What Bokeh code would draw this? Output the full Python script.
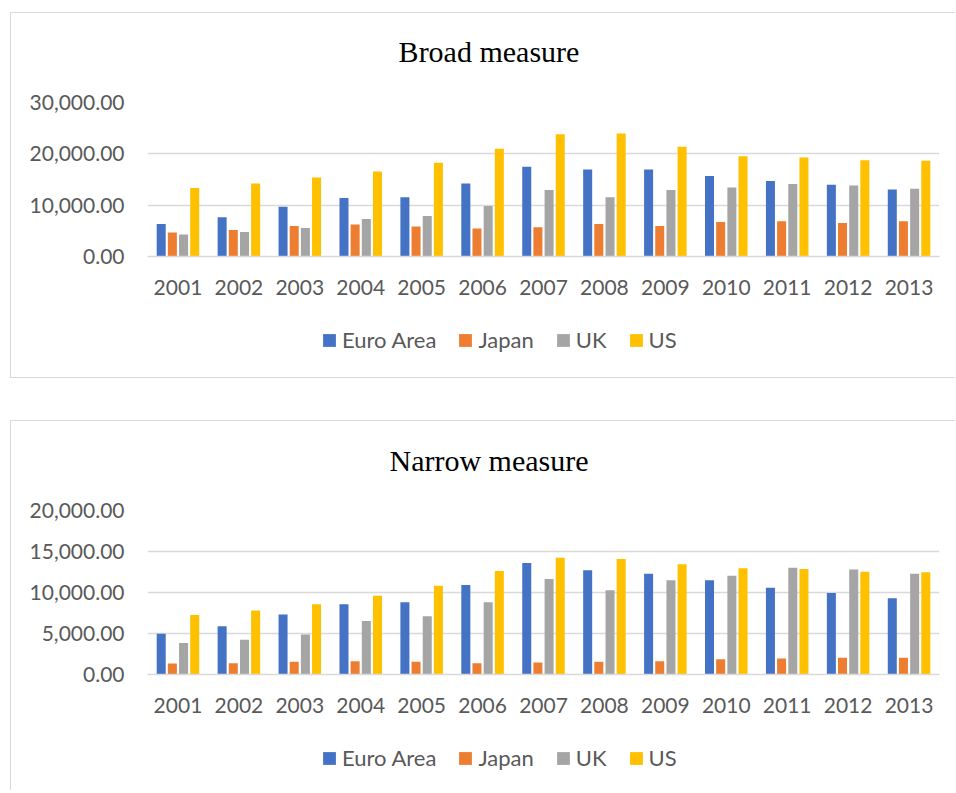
from bokeh.plotting import figure
from bokeh.models import (ColumnDataSource, FactorRange, Range1d, FixedTicker,
                          NumeralTickFormatter, Legend, LegendItem, Label)
from bokeh.transform import dodge
from bokeh.layouts import column
from bokeh.embed import file_html
from bokeh.resources import INLINE

# Categories and series
years = [str(y) for y in range(2001, 2014)]
series = ["Euro Area", "Japan", "UK", "US"]
colors = ["#4472C4", "#ED7D31", "#A5A5A5", "#FFC000"]

# Broad measure
broad_euro = [6350, 7630, 9710, 11390, 11520, 14240, 17480, 16960, 16960, 15660, 14690, 13980, 13070]
broad_japan = [4660, 5180, 5960, 6210, 5830, 5440, 5700, 6350, 5960, 6730, 6860, 6540, 6860]
broad_uk = [4270, 4790, 5570, 7320, 7900, 9840, 12950, 11520, 12950, 13460, 14110, 13850, 13200]
broad_us = [13340, 14240, 15400, 16570, 18250, 20970, 23820, 23950, 21360, 19550, 19290, 18770, 18640]
broad_ticks = [0, 10000, 20000, 30000]

# Narrow measure
narrow_euro = [4960, 5870, 7330, 8560, 8800, 10920, 13610, 12710, 12300, 11490, 10590, 9940, 9290]
narrow_japan = [1340, 1380, 1540, 1630, 1540, 1380, 1470, 1540, 1630, 1870, 1960, 2030, 2030]
narrow_uk = [3830, 4230, 4890, 6520, 7090, 8800, 11650, 10270, 11490, 12050, 13030, 12790, 12300]
narrow_us = [7250, 7820, 8560, 9610, 10830, 12630, 14250, 14090, 13450, 12960, 12870, 12540, 12470]
narrow_ticks = [0, 5000, 10000, 15000, 20000]

GRID = "#d9d9d9"
TEXT = "#595959"
SANS = "Lato"
SERIF = "Liberation Serif"
W = 944
TITLE_H = 60

offsets = [-0.275, -0.092, 0.092, 0.275]
bar_w = 0.148


def bare_figure(height, **kw):
    f = figure(width=W, height=height, x_axis_location=None, y_axis_location=None,
               output_backend="svg", toolbar_location=None, **kw)
    f.outline_line_color = None
    f.grid.visible = False
    return f


def make_title(text, y):
    # Heading strip above the chart; the column lines its frame up with the chart's
    t = bare_figure(TITLE_H, x_range=Range1d(0, 1), y_range=Range1d(0, TITLE_H),
                    min_border_left=0, min_border_right=0,
                    min_border_top=0, min_border_bottom=0)
    t.add_layout(Label(x=341.5, x_units="screen", y=y, text=text,
                       text_align="center", text_baseline="alphabetic",
                       text_font=SERIF, text_font_size="30px", text_color="#000000"))
    return t


def make_chart(src, ticks, frame_h):
    top, bottom = 89 - TITLE_H, 50
    p = figure(x_range=FactorRange(*years), y_range=Range1d(0, ticks[-1]),
               width=W, height=top + frame_h + bottom,
               min_border_left=136, min_border_right=16,
               min_border_top=top, min_border_bottom=bottom,
               output_backend="svg", toolbar_location=None)

    for i, col in enumerate(colors):
        p.vbar(x=dodge("year", offsets[i], range=p.x_range), top=f"s{i}",
               width=bar_w, source=src, fill_color=col, line_color=None)

    p.outline_line_color = None
    p.background_fill_color = "white"
    p.border_fill_color = "white"
    p.xgrid.visible = False
    p.ygrid.grid_line_color = GRID
    p.ygrid.grid_line_width = 1.5
    p.ygrid.ticker = FixedTicker(ticks=ticks)

    p.yaxis.ticker = FixedTicker(ticks=ticks)
    p.yaxis.formatter = NumeralTickFormatter(format="0,0.00")
    p.yaxis.axis_line_color = None
    p.yaxis.major_tick_line_color = None
    p.yaxis.minor_tick_line_color = None
    p.yaxis.major_label_standoff = 17
    p.yaxis.major_label_text_font = SANS
    p.yaxis.major_label_text_font_size = "21px"
    p.yaxis.major_label_text_color = TEXT

    p.xaxis.axis_line_color = GRID
    p.xaxis.axis_line_width = 1.5
    p.xaxis.major_tick_line_color = None
    p.xaxis.minor_tick_line_color = None
    p.xaxis.major_label_standoff = 17
    p.xaxis.major_label_text_font = SANS
    p.xaxis.major_label_text_font_size = "21px"
    p.xaxis.major_label_text_color = TEXT
    return p


def make_legend(src, height, pad_top, pad_bottom, y):
    # Key strip below the chart; its series renderers stay hidden
    lf = bare_figure(height, x_range=FactorRange(*years), y_range=Range1d(0, 1),
                     min_border_left=0, min_border_right=0,
                     min_border_top=pad_top, min_border_bottom=pad_bottom)
    items = []
    for i, (name, col) in enumerate(zip(series, colors)):
        r = lf.vbar(x="year", top=f"s{i}", width=bar_w, source=src,
                    fill_color=col, line_color=None, visible=False)
        items.append(LegendItem(label=name, renderers=[r]))
    legend = Legend(items=items, orientation="horizontal", location=(174, y),
                    glyph_width=16, glyph_height=16, label_standoff=5, spacing=21,
                    padding=0, margin=0, background_fill_alpha=0, border_line_alpha=0,
                    inactive_fill_alpha=0,
                    label_text_font=SANS, label_text_font_size="22px",
                    label_text_color=TEXT)
    lf.add_layout(legend)
    return lf


def source(values):
    return ColumnDataSource(dict(year=years, **{f"s{i}": v for i, v in enumerate(values)}))


edge = "1.5px solid #d9d9d9"

src1 = source([broad_euro, broad_japan, broad_uk, broad_us])
panel1 = column(make_title("Broad measure", 22),
                make_chart(src1, broad_ticks, 154),
                make_legend(src1, 71, 0, 2, 22),
                spacing=0, margin=(12, 0, 0, 10),
                styles={"border-top": edge, "border-left": edge, "border-bottom": edge})

src2 = source([narrow_euro, narrow_japan, narrow_uk, narrow_us])
panel2 = column(make_title("Narrow measure", 21),
                make_chart(src2, narrow_ticks, 164),
                make_legend(src2, 66, 3, 0, 19),
                spacing=0, margin=(42, 0, 0, 10),
                styles={"border-top": edge, "border-left": edge})

layout = column(panel1, panel2, spacing=0)
open("out.html", "w").write(file_html(layout, INLINE))
